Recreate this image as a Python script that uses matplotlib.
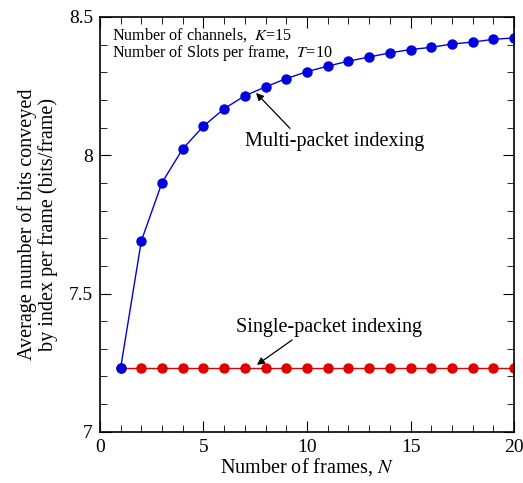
import numpy as np
import matplotlib.pyplot as plt
from matplotlib.ticker import MultipleLocator

plt.rcParams['font.family'] = ['Liberation Serif', 'DejaVu Serif']
plt.rcParams['mathtext.fontset'] = 'stix'

frames = np.arange(1, 21)
multi_bits = [7.230, 7.690, 7.901, 8.023, 8.105, 8.168, 8.215, 8.247, 8.277, 8.302,
              8.322, 8.340, 8.355, 8.370, 8.382, 8.390, 8.402, 8.409, 8.419, 8.424]
single_bits = [7.230] * 20

fig = plt.figure(figsize=(5.23, 4.83), dpi=100)
ax = fig.add_axes([0.191, 0.106, 0.792, 0.859])

ax.plot(frames, single_bits, '-o', color='#e00000', lw=1, ms=6.5, mec='#e00000')
ax.plot(frames, multi_bits, '-o', color='#0000dd', lw=1, ms=6.5, mec='#0000dd')

ax.set_xlim(0, 20)
ax.set_ylim(7, 8.5)
ax.xaxis.set_major_locator(MultipleLocator(5))
ax.xaxis.set_minor_locator(MultipleLocator(1))
ax.yaxis.set_minor_locator(MultipleLocator(0.1))
ax.set_yticks([7, 7.5, 8, 8.5])
ax.set_yticklabels(['7', '7.5', '8', '8.5'])
ax.tick_params(which='both', direction='in', top=True, right=True, labelsize=14)
ax.tick_params(which='major', length=8, pad=5)
ax.tick_params(which='minor', length=5)
for s in ax.spines.values():
    s.set_linewidth(1.2)

ax.set_xlabel('Number of frames, $\\it{N}$', fontsize=14.5, labelpad=0)
ax.set_ylabel('Average number of bits conveyed\nby index per frame (bits/frame)',
              fontsize=14.5, labelpad=8, linespacing=1.05)

ax.text(0.58, 8.435, 'Number of channels,  $\\it{K}$=15', fontsize=11.6, va='center')
ax.text(0.58, 8.370, 'Number of Slots per frame,  $\\it{T}$=10', fontsize=11.6, va='center')

ax.annotate('', xy=(7.54, 8.225), xytext=(9.18, 8.097),
            arrowprops=dict(arrowstyle='-|>', color='black', lw=0.9,
                            shrinkA=0, shrinkB=0, mutation_scale=11))
ax.text(11.33, 8.048, 'Multi-packet indexing', ha='center', va='center', fontsize=14.5)
ax.annotate('', xy=(7.58, 7.242), xytext=(9.28, 7.332),
            arrowprops=dict(arrowstyle='-|>', color='black', lw=0.9,
                            shrinkA=0, shrinkB=0, mutation_scale=11))
ax.text(11.04, 7.376, 'Single-packet indexing', ha='center', va='center', fontsize=14.5)

fig.savefig('out.png', dpi=100)
